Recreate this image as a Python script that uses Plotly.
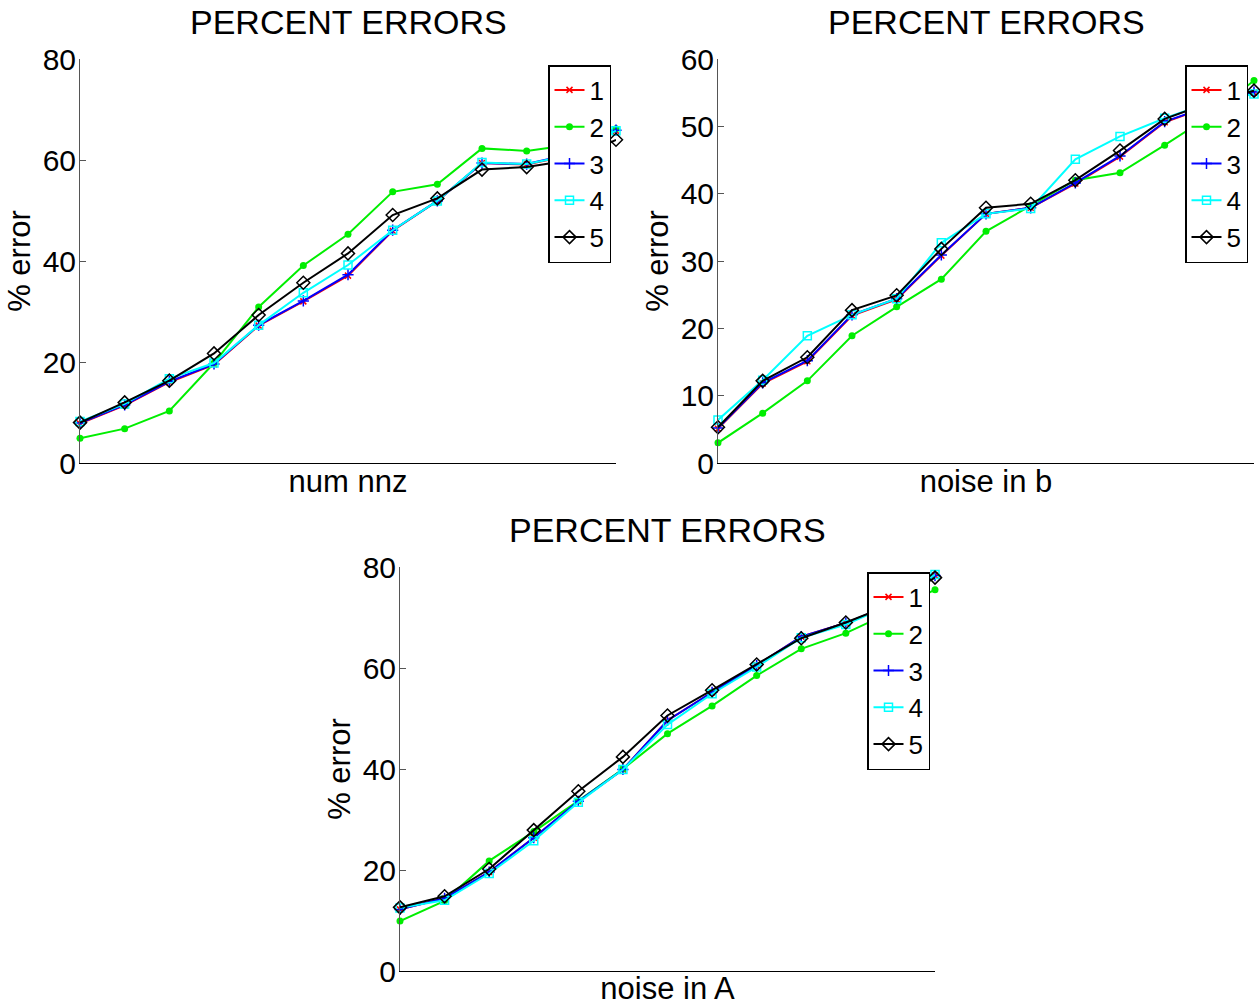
import plotly.graph_objects as go

# ---------------- data ----------------
x_idx = list(range(1, 14))
series_names = ["1", "2", "3", "4", "5"]

# Panel A: num nnz
nnz_1 = [7.8, 11.4, 16.0, 19.5, 27.2, 32.0, 37.1, 46.0, 51.9, 59.4, 59.1, 61.0, 65.8]
nnz_2 = [4.9, 6.8, 10.3, 19.8, 30.9, 39.1, 45.3, 53.7, 55.2, 62.3, 61.8, 63.0, 66.2]
nnz_3 = [7.9, 11.5, 16.1, 19.6, 27.3, 32.1, 37.3, 46.1, 51.9, 59.4, 59.2, 61.2, 65.9]
nnz_4 = [8.2, 11.7, 16.7, 19.8, 27.3, 33.7, 39.2, 46.1, 51.9, 59.5, 59.2, 61.0, 65.8]
nnz_5 = [8.0, 12.0, 16.3, 21.7, 29.3, 35.7, 41.5, 49.1, 52.4, 58.1, 58.6, 60.0, 64.0]

# Panel B: noise in b
nb_1 = [5.1, 11.8, 15.1, 21.9, 24.3, 30.8, 37.0, 37.9, 41.5, 45.5, 50.6, 53.0, 55.0]
nb_2 = [3.0, 7.4, 12.2, 18.9, 23.2, 27.3, 34.4, 38.2, 42.0, 43.1, 47.2, 51.5, 56.8]
nb_3 = [5.2, 11.9, 15.2, 22.0, 24.4, 30.9, 37.0, 37.9, 41.6, 45.6, 50.7, 53.0, 55.1]
nb_4 = [6.4, 12.3, 18.9, 22.0, 24.4, 32.7, 37.0, 37.8, 45.1, 48.5, 51.2, 53.5, 54.8]
nb_5 = [5.3, 12.2, 15.7, 22.7, 24.9, 31.8, 37.9, 38.5, 42.0, 46.4, 51.1, 53.5, 55.3]

# Panel C: noise in A
na_1 = [12.2, 14.4, 19.6, 26.4, 33.6, 39.9, 49.6, 55.2, 60.5, 66.2, 68.9, 72.5, 78.3]
na_2 = [9.9, 13.9, 21.8, 27.6, 33.7, 40.0, 47.0, 52.5, 58.5, 63.8, 66.9, 71.0, 75.5]
na_3 = [12.2, 14.4, 19.6, 26.4, 33.6, 39.9, 49.6, 55.2, 60.5, 66.2, 68.9, 72.5, 78.3]
na_4 = [12.5, 14.0, 19.3, 25.8, 33.4, 39.9, 48.8, 54.9, 60.2, 66.0, 68.6, 72.5, 78.5]
na_5 = [12.6, 14.8, 20.2, 27.9, 35.6, 42.4, 50.6, 55.6, 60.7, 65.9, 69.0, 72.5, 77.9]

panels = [
    {"data": [nnz_1, nnz_2, nnz_3, nnz_4, nnz_5], "xlabel": "num nnz",
     "yrange": [0, 80], "dtick": 20},
    {"data": [nb_1, nb_2, nb_3, nb_4, nb_5], "xlabel": "noise in b",
     "yrange": [0, 60], "dtick": 10},
    {"data": [na_1, na_2, na_3, na_4, na_5], "xlabel": "noise in A",
     "yrange": [0, 80], "dtick": 20},
]
title_text = "PERCENT ERRORS"
ylabel_text = "% error"

# ---------------- styles ----------------
W, H = 1260, 1006
FONT = "Liberation Sans, Arial, Helvetica, sans-serif"
colors = ["#ff0000", "#00ee00", "#0000ff", "#00ffff", "#000000"]
markers = [
    dict(symbol="x-thin", size=6, line=dict(width=1.5, color="#ff0000")),
    dict(symbol="circle", size=7, color="#00ee00", line=dict(width=0)),
    dict(symbol="cross-thin", size=8, line=dict(width=1.5, color="#0000ff")),
    dict(symbol="square-open", size=8, color="#00ffff", line=dict(width=1.5)),
    dict(symbol="diamond-open", size=10, color="#000000", line=dict(width=1.5)),
]

# pixel boxes of the three axes: (left, right, top, bottom)
boxes = [(80, 616, 59, 463), (718, 1254, 59, 463), (400, 935, 567, 971)]
legend_pos = [(611, 65), (1248, 65), (930, 572)]

fig = go.Figure()

for p, (panel, box) in enumerate(zip(panels, boxes)):
    ax = "" if p == 0 else str(p + 1)
    leg = "legend" if p == 0 else "legend" + str(p + 1)
    for s in range(5):
        m = dict(markers[s])
        if "color" not in m:
            m["color"] = colors[s]
        fig.add_trace(go.Scatter(
            x=x_idx, y=panel["data"][s], name=series_names[s],
            mode="lines+markers", line=dict(color=colors[s], width=2),
            marker=m, cliponaxis=False,
            xaxis="x" + ax, yaxis="y" + ax, legend=leg,
        ))
    l, r, t, b = box
    fig.layout["xaxis" + ax] = dict(
        domain=[l / W, r / W], range=[1, 13], showgrid=False, zeroline=False,
        showline=True, linecolor="black", linewidth=1, showticklabels=False,
        ticks="", anchor="y" + ax, automargin=False,
        title=dict(text=panel["xlabel"], font=dict(size=31, family=FONT, color="black"), standoff=7),
    )
    fig.layout["yaxis" + ax] = dict(
        domain=[1 - b / H, 1 - t / H], range=panel["yrange"], dtick=panel["dtick"],
        showgrid=False, zeroline=False, showline=True, linecolor="#555555", linewidth=1,
        ticks="inside", ticklen=6, tickcolor="#555555", anchor="x" + ax,
        automargin=False, ticklabelstandoff=-3,
        tickfont=dict(size=30, family=FONT, color="black"),
        title=dict(text=ylabel_text, font=dict(size=31, family=FONT, color="black"), standoff=2),
    )
    fig.layout[leg] = dict(
        x=legend_pos[p][0] / W, y=1 - legend_pos[p][1] / H, xanchor="right", yanchor="top",
        bgcolor="white", bordercolor="black", borderwidth=1.5,
        font=dict(size=26, family=FONT, color="black"), itemwidth=30,
        tracegroupgap=0,
    )
    fig.add_annotation(
        text=title_text, xref="paper", yref="paper",
        x=((l + r) / 2) / W, y=1 - (t - 37) / H, xanchor="center", yanchor="middle",
        showarrow=False, font=dict(size=34, family=FONT, color="black"),
    )

fig.update_layout(
    width=W, height=H, margin=dict(l=0, r=0, t=0, b=0, autoexpand=False),
    plot_bgcolor="white", paper_bgcolor="white", showlegend=True,
    font=dict(family=FONT, color="black"),
)

fig.write_html("out.html")
